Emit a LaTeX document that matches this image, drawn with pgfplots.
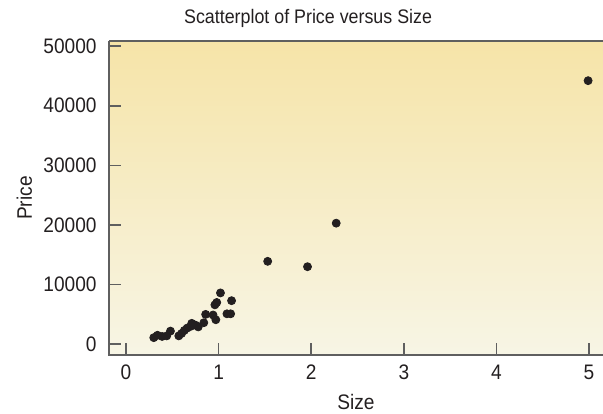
\documentclass[border=0pt]{standalone}
\usepackage{fontspec}
\setmainfont{Liberation Sans}[FakeStretch=0.91]
\usepackage{pgfplots}
\pgfplotsset{compat=1.18}
\definecolor{bgtop}{RGB}{246,228,168}
\definecolor{bgbot}{RGB}{247,245,229}
\definecolor{spine}{RGB}{95,95,95}
\definecolor{ink}{RGB}{35,31,32}
\begin{document}
\fontsize{10.5}{12.6}\selectfont
\begin{tikzpicture}
\begin{axis}[
  at={(0,0)}, anchor=south west,
  scale only axis,
  width=247pt, height=157.2pt,
  xmin=-0.1836, xmax=5.151,
  ymin=-1846, ymax=50890,
  xtick={0,1,2,3,4,5},
  ytick={0,10000,20000,30000,40000,50000},
  scaled y ticks=false,
  /pgf/number format/assume math mode=true,
  /pgf/number format/set thousands separator={},
  xtick pos=bottom, ytick pos=left,
  tick align=inside,
  major tick length=6pt,
  tick style={color=spine, line width=0.8pt},
  axis line style={draw=none},
  axis background/.style={top color=bgtop, bottom color=bgbot},
  ticklabel style={font=\fontsize{10.5}{12.6}\selectfont, text=ink},
  yticklabel style={anchor=east, xshift=-2.5pt},
  xticklabel style={anchor=north, yshift=-1pt},
  every axis title shift=0pt,
  title={Scatterplot of Price versus Size},
  title style={at={(axis description cs:0.403,1.0563)}, anchor=base, text=ink, font=\fontsize{9.8}{11.8}\selectfont},
  xlabel={Size},
  xlabel style={at={(axis description cs:0.5,-0.1718)}, anchor=base, text=ink, font=\fontsize{10.5}{12.6}\selectfont},
  ylabel={Price},
  ylabel style={at={(axis description cs:-0.1559,0.5)}, anchor=base, text=ink, font=\fontsize{10.5}{12.6}\selectfont},
  clip=false,
]
\addplot[only marks, mark=*, mark size=2pt, color=ink] coordinates {
(0.30,1100) (0.34,1500) (0.39,1300) (0.44,1400) (0.48,2200)
(0.57,1400) (0.60,1800) (0.63,2300) (0.66,2700) (0.70,3000)
(0.71,3500) (0.75,3200) (0.78,2900) (0.84,3600) (0.86,5000)
(0.94,4900) (0.97,4100) (0.96,6600) (0.98,7000) (1.02,8600)
(1.09,5100) (1.13,5100) (1.14,7300) (1.53,13900) (1.96,13000)
(2.27,20300) (4.99,44200)
};
\draw[spine, line width=0.8pt] (rel axis cs:0,1) -- (rel axis cs:0,0) -- (rel axis cs:1,0);
\draw[spine, line width=0.8pt] (rel axis cs:0,1) -- (rel axis cs:1,1);
\end{axis}
\pgfresetboundingbox
\path (-54.5pt,-29pt) rectangle (247pt,177.6pt);
\end{tikzpicture}
\end{document}
